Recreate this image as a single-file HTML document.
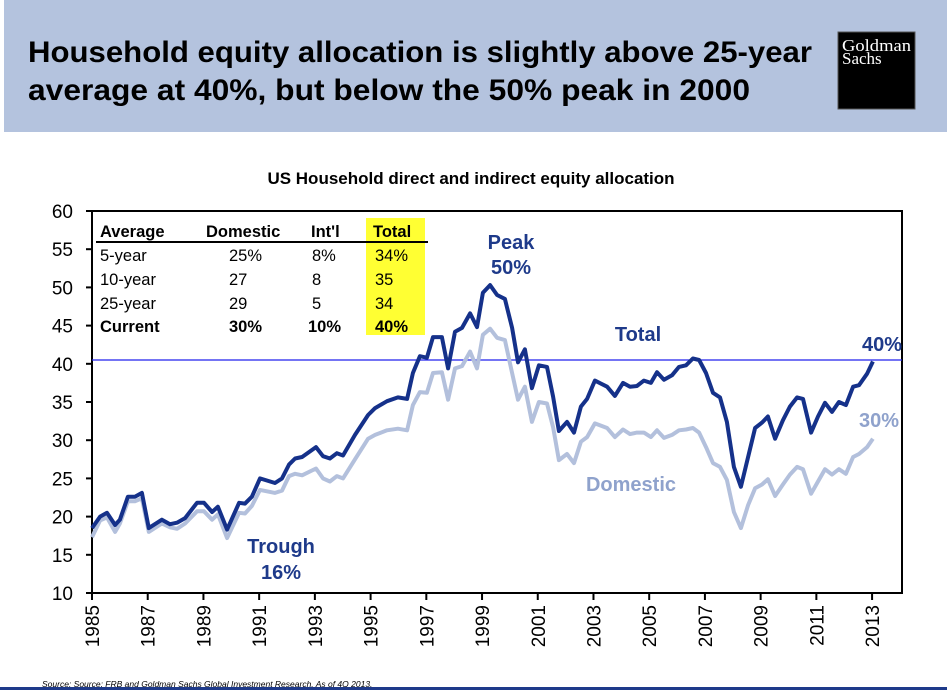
<!DOCTYPE html>
<html><head><meta charset="utf-8"><style>
html,body{margin:0;padding:0;background:#fff;}
svg{display:block;font-family:"Liberation Sans",Arial,sans-serif;}
</style></head><body>
<svg id="c" width="947" height="690" viewBox="0 0 947 690" xmlns="http://www.w3.org/2000/svg">
<rect x="4" y="0" width="943" height="132" fill="#b4c3de"/>
<text x="28" y="62" font-size="30" font-weight="bold" fill="#000" textLength="784" lengthAdjust="spacingAndGlyphs">Household equity allocation is slightly above 25-year</text>
<text x="28" y="100" font-size="30" font-weight="bold" fill="#000" textLength="722" lengthAdjust="spacingAndGlyphs">average at 40%, but below the 50% peak in 2000</text>
<g>
<rect x="838" y="32" width="77" height="77" fill="#000" stroke="#555" stroke-width="1"/>
<text x="842" y="51" font-family="'Liberation Serif',serif" font-size="17" fill="#fff" textLength="69" lengthAdjust="spacingAndGlyphs">Goldman</text>
<text x="842" y="64" font-family="'Liberation Serif',serif" font-size="17" fill="#fff">Sachs</text>
</g>
<text x="471" y="184" font-size="17" font-weight="bold" text-anchor="middle" fill="#000">US Household direct and indirect equity allocation</text>
<g id="axes"></g>
<g id="marks"></g>
<g font-size="16.5" fill="#000">
<rect x="366" y="218" width="59" height="117" fill="#ffff33"/>
<line x1="96" y1="242" x2="428" y2="242" stroke="#000" stroke-width="2"/>
<g font-weight="bold"><text x="100" y="237">Average</text><text x="206" y="237">Domestic</text><text x="311" y="237">Int'l</text><text x="373" y="237">Total</text></g>
<text x="100" y="261">5-year</text><text x="229" y="261">25%</text><text x="312" y="261">8%</text><text x="375" y="261">34%</text>
<text x="100" y="285">10-year</text><text x="229" y="285">27</text><text x="312" y="285">8</text><text x="375" y="285">35</text>
<text x="100" y="309">25-year</text><text x="229" y="309">29</text><text x="312" y="309">5</text><text x="375" y="309">34</text>
<g font-weight="bold"><text x="100" y="332">Current</text><text x="229" y="332">30%</text><text x="308" y="332">10%</text><text x="375" y="332">40%</text></g>
</g>
<g font-weight="bold" font-size="20" text-anchor="middle">
<text x="511" y="249" fill="#1e3a8a">Peak</text>
<text x="511" y="274" fill="#1e3a8a">50%</text>
<text x="638" y="341" fill="#1e3a8a">Total</text>
<text x="882" y="351" fill="#1e3a8a">40%</text>
<text x="879" y="427" fill="#8fa2cc">30%</text>
<text x="631" y="491" fill="#8fa2cc">Domestic</text>
<text x="281" y="553" fill="#1e3a8a">Trough</text>
<text x="281" y="579" fill="#1e3a8a">16%</text>
</g>
<text x="42" y="687" font-size="8.5" font-style="italic" fill="#000">Source: Source: FRB and Goldman Sachs Global Investment Research. As of 4Q 2013.</text>
<rect x="0" y="687" width="947" height="3" fill="#1e3a8a"/>
</svg>
<script>
const years=[1985.00,1985.29,1985.54,1985.83,1986.00,1986.29,1986.54,1986.79,1987.04,1987.51,1987.80,1988.05,1988.34,1988.77,1989.02,1989.31,1989.52,1989.85,1990.28,1990.49,1990.74,1991.03,1991.57,1991.82,1992.07,1992.29,1992.54,1993.04,1993.29,1993.54,1993.79,1994.01,1994.44,1994.91,1995.16,1995.59,1995.98,1996.31,1996.52,1996.77,1997.02,1997.24,1997.56,1997.78,1998.03,1998.28,1998.57,1998.82,1999.03,1999.29,
1999.54,1999.82,2000.08,2000.29,2000.54,2000.79,2001.04,2001.33,2001.55,2001.76,2002.05,2002.30,2002.55,2002.77,2003.05,2003.49,2003.77,2004.06,2004.31,2004.56,2004.81,2005.06,2005.28,2005.53,2005.82,2006.07,2006.32,2006.57,2006.79,2007.04,2007.29,2007.54,2007.79,2008.04,2008.29,2008.55,2008.80,2009.05,2009.26,2009.52,2009.80,2010.05,2010.31,2010.52,2010.81,2011.06,2011.31,2011.56,2011.81,2012.06,2012.32,2012.53,2012.82,2013.03];
const total=[18.5,20.0,20.5,18.9,19.6,22.6,22.6,23.1,18.5,19.6,19.0,19.2,19.8,21.8,21.8,20.6,21.3,18.3,21.8,21.7,22.6,25.0,24.4,25.0,26.8,27.6,27.8,29.1,27.9,27.6,28.3,28.0,30.7,33.3,34.2,35.1,35.6,35.4,38.8,41.0,40.8,43.5,43.5,39.4,44.2,44.7,46.6,44.8,49.3,50.3,
49.0,48.5,44.7,40.2,41.9,36.8,39.8,39.6,35.7,31.2,32.4,31.0,34.4,35.4,37.8,37.0,35.8,37.5,37.0,37.1,37.8,37.5,38.9,37.9,38.5,39.6,39.8,40.7,40.5,38.8,36.2,35.6,32.4,26.5,23.9,27.8,31.6,32.3,33.1,30.2,32.6,34.4,35.6,35.4,31.0,33.1,34.9,33.7,35.0,34.6,37.0,37.2,38.7,40.3];
const domestic=[17.3,19.5,19.9,18.0,19.1,22.0,22.0,22.4,18.0,19.1,18.6,18.4,19.1,20.7,20.7,19.6,20.3,17.2,20.5,20.4,21.4,23.5,23.1,23.4,25.3,25.6,25.4,26.3,25.0,24.6,25.3,25.0,27.5,30.2,30.7,31.3,31.5,31.3,34.6,36.3,36.2,38.8,38.9,35.3,39.4,39.7,41.6,39.4,43.8,44.6,
43.4,43.1,38.8,35.3,37.0,32.4,35.0,34.8,31.7,27.4,28.2,27.0,29.8,30.4,32.2,31.6,30.4,31.4,30.8,31.0,31.0,30.4,31.3,30.3,30.7,31.3,31.4,31.6,31.0,29.1,27.0,26.5,24.8,20.6,18.5,21.5,23.7,24.2,24.9,22.7,24.2,25.5,26.5,26.2,23.0,24.6,26.2,25.5,26.2,25.6,27.8,28.2,29.1,30.2];
const yTicks=[10,15,20,25,30,35,40,45,50,55,60];
const xTicks=[1985,1987,1989,1991,1993,1995,1997,1999,2001,2003,2005,2007,2009,2011,2013];
const averageLine=[40.5];
const NS="http://www.w3.org/2000/svg";
const X0=92,X1=902,Y0=593,Y1=211;
function xs(v){return X0+(v-1985)*27.86;}
function ys(v){return Y0-(v-10)*(Y0-Y1)/50;}
function mk(t,a,p){const e=document.createElementNS(NS,t);for(const k in a)e.setAttribute(k,a[k]);p.appendChild(e);return e;}
const axes=document.getElementById('axes'),marks=document.getElementById('marks');
const frame=mk('rect',{x:X0,y:Y1,width:X1-X0,height:Y0-Y1,fill:'none',stroke:'#000','stroke-width':2},axes);


yTicks.forEach(v=>{
 const y=ys(v);
 const t=mk('line',{x1:X0-6,x2:X0,y1:y,y2:y,stroke:'#000','stroke-width':2},axes);
 
 
 const l=mk('text',{x:73,y:y+7,'font-size':19,'text-anchor':'end',fill:'#000'},axes);
 l.textContent=v;
 
 
});
xTicks.forEach(v=>{
 const x=xs(v);
 const t=mk('line',{x1:x,x2:x,y1:Y0,y2:Y0+7,stroke:'#000','stroke-width':2},axes);
 
 
 const l=mk('text',{x:0,y:0,'font-size':19,'text-anchor':'end',fill:'#000',transform:'translate('+(x+7)+','+(Y0+12)+') rotate(-90)'},axes);
 l.textContent=v;
 
 
});
const avg=mk('line',{x1:X0,x2:X1,y1:ys(averageLine[0]),y2:ys(averageLine[0]),stroke:'#2020ee','stroke-width':1.3},marks);


function pts(arr){return arr.map((v,i)=>xs(years[i]).toFixed(1)+','+ys(v).toFixed(1)).join(' ');}
const dl=mk('polyline',{points:pts(domestic),fill:'none',stroke:'#b3c0dc','stroke-width':4,'stroke-linejoin':'round'},marks);


const tl=mk('polyline',{points:pts(total),fill:'none',stroke:'#15318a','stroke-width':4,'stroke-linejoin':'round'},marks);


</script>
</body></html>
